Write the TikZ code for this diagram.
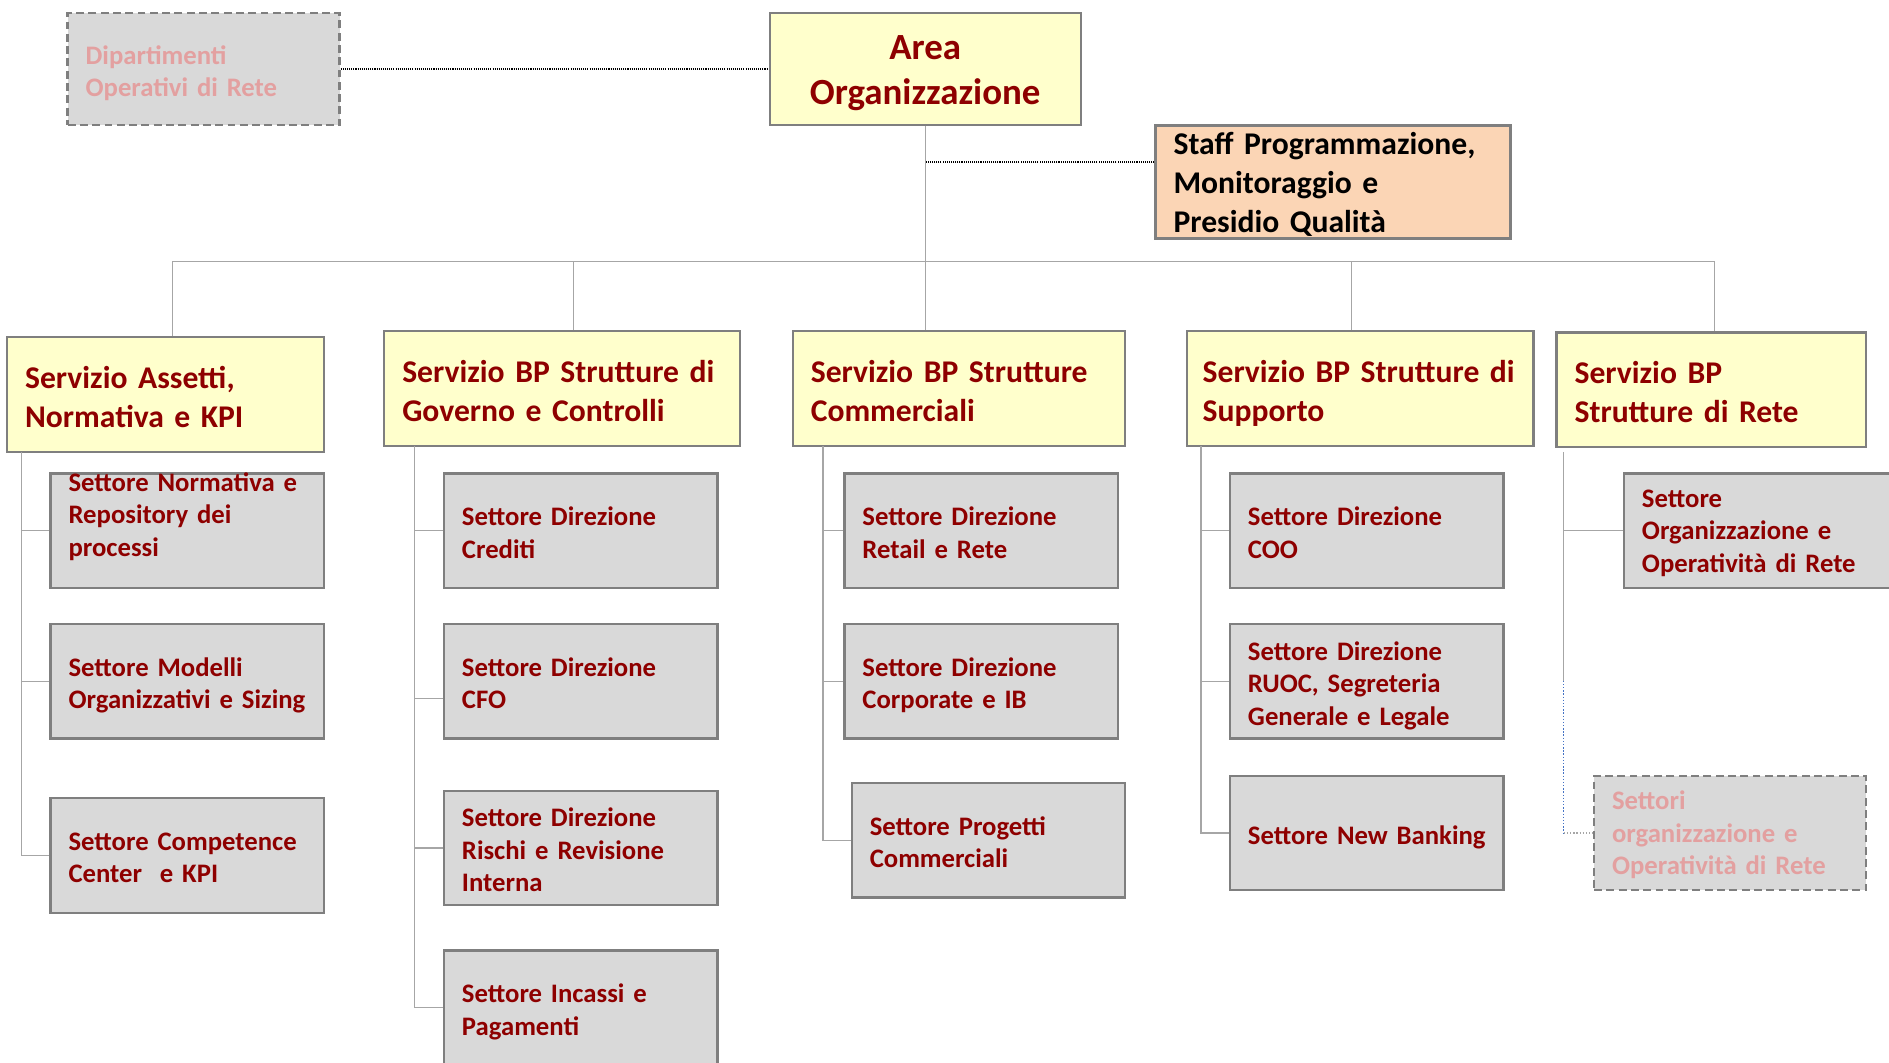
\documentclass[tikz,border=0pt]{standalone}
\usepackage{fontspec}
\setmainfont{Carlito}
\definecolor{scuro}{HTML}{8E0000}
\definecolor{giallo}{HTML}{FFFFCC}
\definecolor{grigio}{HTML}{D9D9D9}
\definecolor{pesca}{HTML}{FBD5B5}
\definecolor{bordo}{HTML}{7F7F7F}
\definecolor{linea}{HTML}{A6A6A6}
\definecolor{rosa}{HTML}{E3A0A0}
\definecolor{blu}{HTML}{4472C4}
\tikzset{
  box/.style={draw=bordo, line width=1.3pt, inner xsep=0.36cm, inner ysep=0pt,
    align=left, minimum height=2.29cm,
    execute at begin node={\hyphenpenalty=10000\rightskip=0pt plus 1fil minus 1.5cm
      \rule{0pt}{0.85em}}},
  area/.style={box, fill=giallo, text=scuro, align=center, minimum width=6.22cm,
    minimum height=2.24cm, font=\fontsize{21}{25.4}\selectfont\bfseries},
  servizio/.style={box, fill=giallo, text=scuro, text width=#1,
    font=\fontsize{18}{22}\selectfont\bfseries},
  settore/.style={box, fill=grigio, text=scuro, text width=4.75cm,
    font=\fontsize{15.2}{18.5}\selectfont\bfseries},
  esterno/.style={box, fill=grigio, text=rosa, text width=4.72cm,
    dash pattern=on 4.5pt off 2.5pt, font=\fontsize{15.2}{18.5}\selectfont\bfseries},
  ramo/.style={draw=linea, line width=0.8pt},
  puntini/.style={line width=1pt, dash pattern=on 0.6pt off 0.6pt}
}
\begin{document}
\begin{tikzpicture}[x=0.02cm, y=-0.02cm]
  \useasboundingbox (0,0) rectangle (1889,1062);
  % vertice
  \node[area] (area) at (925.2,69.3) {\rule{0pt}{18pt}Area\\Organizzazione};
  \node[esterno, minimum height=2.24cm] (dip) at (203.6,69.3)
    {Dipartimenti\\\smash{Operativi di Rete}};
  \node[box, fill=pesca, text width=6.38cm, minimum height=2.26cm,
    font=\fontsize{18}{22}\selectfont\bfseries] (staff) at (1333,181.9)
    {Staff Programmazione,\\Monitoraggio e\\Presidio Qualità};
  \draw[puntini] (dip.east) -- (area.west);
  \coordinate (st) at ([yshift=-0.75cm]staff.north west);
  \draw[puntini] (st) -- (st -| area.south);

  % servizi
  \node[servizio=5.62cm] (s1) at (165.6,394.5) {Servizio Assetti,\\Normativa e KPI};
  \node[servizio=6.39cm] (s2) at (562,388.5) {Servizio BP Strutture di\\Governo e Controlli};
  \node[servizio=5.93cm] (s3) at (959,388.5) {Servizio BP Strutture\\Commerciali};
  \node[servizio=6.30cm, inner xsep=0.32cm] (s4) at (1360.1,388.5) {Servizio BP Strutture di\\\smash{Supporto}};
  \node[servizio=5.47cm] (s5) at (1711.3,389.7) {Servizio BP\\Strutture di Rete};

  \coordinate (b1) at (172.3,261.4);
  \coordinate (b2) at (573.4,261.4);
  \coordinate (b4) at (1351.7,261.4);
  \coordinate (b5) at (1714.3,261.4);
  \draw[ramo] (b1) -- (b5);
  \draw[ramo] (area.south) -- (area.south |- s3.north);
  \draw[ramo] (b1) -- (b1 |- s1.north);
  \draw[ramo] (b2) -- (b2 |- s2.north);
  \draw[ramo] (b4) -- (b4 |- s4.north);
  \draw[ramo] (b5) -- (b5 |- s5.north);

  % settori
  \node[settore, text height=0pt, text depth=45pt] (n11) at (187.3,530.7)
    {Settore Normativa e\\Repository dei\\processi};
  \node[settore] (n12) at (187.3,681.2) {Settore Modelli\\\smash{Organizzativi e Sizing}};
  \node[settore] (n13) at (187.3,855.4) {Settore Competence\\Center\ \ e KPI};

  \node[settore] (n21) at (580.7,530.7) {Settore Direzione\\Crediti};
  \node[settore] (n22) at (580.7,681.2) {Settore Direzione\\CFO};
  \node[settore] (n23) at (580.7,848.1) {Settore Direzione\\Rischi e Revisione\\Interna};
  \node[settore] (n24) at (580.7,1007.7) {Settore Incassi e\\\smash{Pagamenti}};

  \node[settore] (n31) at (981.2,530.7) {Settore Direzione\\Retail e Rete};
  \node[settore] (n32) at (981.2,681.2) {Settore Direzione\\\smash{Corporate e IB}};
  \node[settore] (n33) at (988.5,840.3) {Settore Progetti\\Commerciali};

  \node[settore] (n41) at (1366.7,530.7) {Settore Direzione\\COO};
  \node[settore] (n42) at (1366.7,681.2) {Settore Direzione\\RUOC, Segreteria\\\smash{Generale e Legale}};
  \node[settore] (n43) at (1366.7,833) {\smash{Settore New Banking}};

  \node[settore] (n51) at (1760.7,530.7) {Settore\\Organizzazione e\\Operatività di Rete};
  \node[esterno] (n52) at (1730,833) {Settori\\organizzazione e\\Operatività di Rete};

  % rami
  \coordinate (r1) at (21.7,451.8);
  \coordinate (r2) at (414.4,445.7);
  \coordinate (r3) at (822.8,445.7);
  \coordinate (r4) at (1201.1,445.7);
  \coordinate (r5) at (1563.7,451.8);
  \coordinate (r5b) at (1563.7,680.7);
  \draw[ramo] (r1) |- (n13.west);
  \draw[ramo] (n11.west) -- (n11.west -| r1);
  \draw[ramo] (n12.west) -- (n12.west -| r1);
  \draw[ramo] (r2) |- (n24.west);
  \draw[ramo] (n21.west) -- (n21.west -| r2);
  \draw[ramo] ([yshift=-0.35cm]n22.west) -- ([yshift=-0.35cm]n22.west -| r2);
  \draw[ramo] (n23.west) -- (n23.west -| r2);
  \draw[ramo] (r3) |- (n33.west);
  \draw[ramo] (n31.west) -- (n31.west -| r3);
  \draw[ramo] (n32.west) -- (n32.west -| r3);
  \draw[ramo] (r4) |- (n43.west);
  \draw[ramo] (n41.west) -- (n41.west -| r4);
  \draw[ramo] (n42.west) -- (n42.west -| r4);
  \draw[ramo] (r5) -- (r5b);
  \draw[ramo] (n51.west) -- (n51.west -| r5);
  \draw[blu, line width=0.8pt, densely dotted] (r5b) -- (r5b |- n52.west);
  \draw[linea, line width=0.8pt, densely dotted] (r5b |- n52.west) -- (n52.west);
\end{tikzpicture}
\end{document}
